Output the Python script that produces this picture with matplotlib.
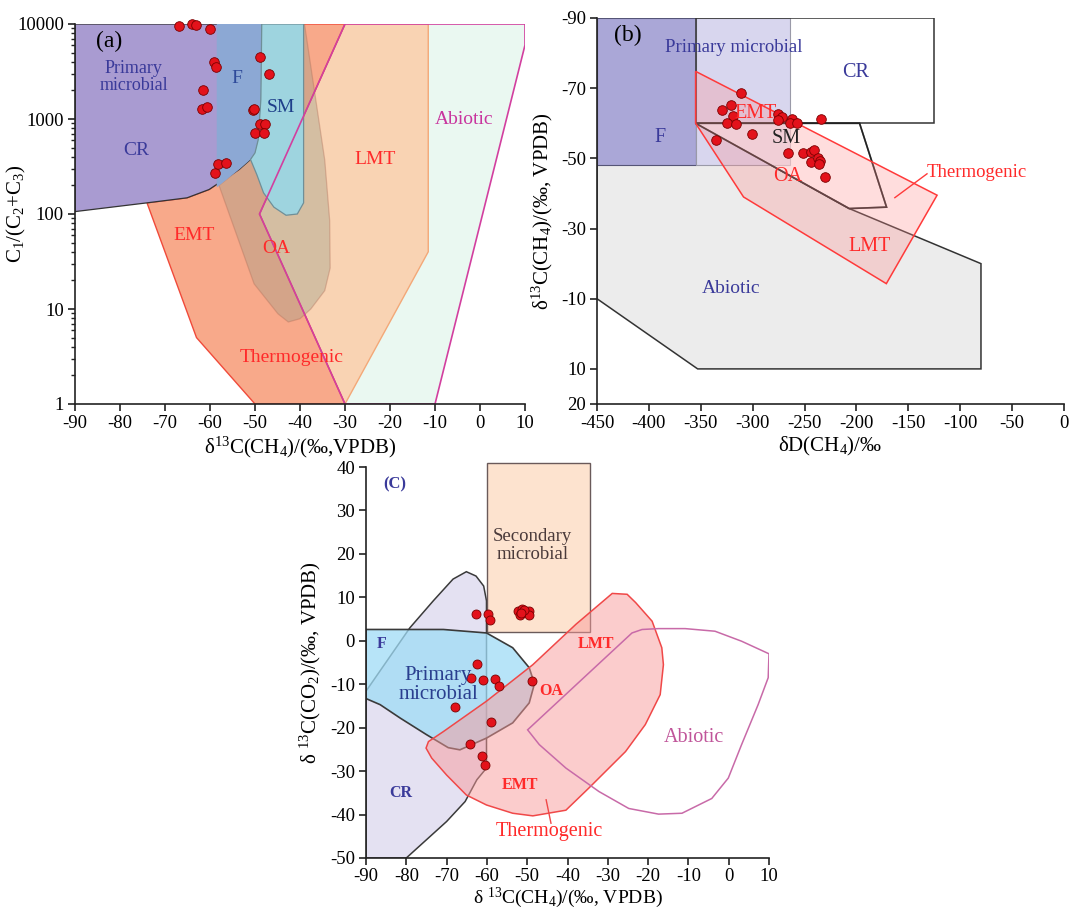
import matplotlib
matplotlib.use("Agg")
import matplotlib.pyplot as plt
from matplotlib.patches import Polygon
from matplotlib.ticker import FixedLocator, FixedFormatter, LogLocator, NullFormatter

plt.rcParams['font.family'] = ['Liberation Serif', 'DejaVu Serif']
plt.rcParams['mathtext.fontset'] = 'custom'
plt.rcParams['mathtext.rm'] = 'Liberation Serif'
plt.rcParams['mathtext.it'] = 'Liberation Serif:italic'
plt.rcParams['mathtext.bf'] = 'Liberation Serif:bold'
plt.rcParams['axes.unicode_minus'] = False

# ---------------- panel (a): C1/(C2+C3) vs d13C-CH4 ----------------
a_cr = [(-90, 10000), (-48.5, 10000), (-48.7, 1600), (-49.3, 600), (-50, 440), (-51, 375),
        (-53.5, 295), (-60.2, 181), (-65.1, 148), (-74, 131), (-90, 106)]
a_f = [(-58.5, 10000), (-48.5, 10000), (-48.7, 1600), (-49.3, 600), (-50, 440), (-51, 375),
       (-53.5, 295), (-58.5, 190)]
a_sm = [(-48.5, 10000), (-48.7, 1600), (-49.3, 600), (-50, 440), (-51, 375), (-49.6, 260),
        (-48.1, 167), (-45.8, 118), (-43.1, 97), (-40.6, 100), (-39.2, 131), (-39.2, 10000)]
a_emt = [(-74, 131), (-63, 5), (-50, 1), (-30, 1), (-49, 100), (-30, 10000), (-48.5, 10000),
         (-50, 440), (-53.5, 295), (-60.2, 181), (-65.1, 148)]
a_lmt = [(-30, 10000), (-11.5, 10000), (-11.5, 40), (-30, 1), (-49, 100)]
a_oa = [(-58, 200), (-50.2, 18.4), (-44.9, 8.9), (-42.6, 7.3), (-40, 7.9), (-37.6, 10),
        (-34.5, 15.6), (-33.3, 27), (-33.4, 85), (-34.5, 370), (-39, 10000), (-48.5, 10000),
        (-50, 440), (-53.5, 295)]
a_abiotic = [(-30, 10000), (10, 10000), (10, 6000), (-10, 1), (-30, 1), (-49, 100)]

a_x = [-66.8, -63.9, -63.2, -59.9, -59.1, -58.7, -61.5, -61.7, -60.7, -58.9, -58.2, -56.4,
       -49.0, -47.0, -50.4, -50.2, -49.0, -47.7, -50.0, -47.9]
a_y = [9500, 10000, 9800, 8800, 4000, 3550, 2000, 1270, 1350, 267, 334, 348,
       4450, 2980, 1230, 1270, 880, 880, 710, 720]

a_xticks = [-90, -80, -70, -60, -50, -40, -30, -20, -10, 0, 10]
a_yticks = [1, 10, 100, 1000, 10000]
a_ytick_labels = ["1", "10", "100", "1000", "10000"]

# ---------------- panel (b): d13C-CH4 vs dD-CH4 ----------------
b_f = [(-450, -90), (-355, -90), (-355, -48), (-450, -48)]
b_pm = [(-355, -90), (-264, -90), (-264, -48), (-355, -48)]
b_cr = [(-355, -90), (-125.6, -90), (-125.6, -60), (-355, -60)]
b_sm = [(-355, -60), (-197, -60), (-171, -36.1), (-207, -35.7)]
b_therm = [(-355, -74.8), (-122.3, -39.5), (-171.2, -14.3), (-308.8, -39), (-355, -60)]
b_abiotic = [(-450, -60), (-355, -60), (-207, -35.7), (-80, -20), (-80, 10), (-353, 10), (-450, -10)]

b_x = [-311.4, -329.4, -321.2, -318.9, -325.1, -316.3, -300.7, -335.2, -275.6, -271.7, -275.6,
       -262.5, -264.1, -257.6, -233.8, -266.4, -251.8, -243.9, -241.3, -243.9, -237.1, -234.8,
       -235.8, -229.9]
b_y = [-68.6, -63.8, -65.3, -62.0, -60.0, -59.7, -57.0, -55.3, -62.7, -61.9, -61.0, -61.3, -60.0,
       -60.0, -61.1, -51.5, -51.5, -51.7, -52.5, -48.9, -50.1, -49.2, -48.5, -44.7]

b_xticks = [-450, -400, -350, -300, -250, -200, -150, -100, -50, 0]
b_yticks = [-90, -70, -50, -30, -10, 10, 20]

# ---------------- panel (c): d13C-CO2 vs d13C-CH4 ----------------
c_cr = [(-90, -11.6), (-79.1, 3.0), (-73.3, 9.2), (-68.4, 14.2), (-65.1, 15.9), (-62.7, 14.9),
        (-60.8, 12.6), (-60.1, 9.2), (-60.1, -29.3), (-62.5, -32), (-65.4, -37), (-70, -41.6),
        (-80, -50), (-90, -50)]
c_f = [(-90, 2.6), (-70.8, 2.6), (-60.1, 1.8), (-53.6, -1.6), (-49.5, -6.2), (-48.2, -9.9),
       (-49.5, -14.3), (-53.6, -18.9), (-60.1, -22.4), (-66.7, -25.1), (-69.6, -24.6),
       (-75.0, -21.6), (-81.5, -17.8), (-86.5, -14.7), (-90, -13.3)]
c_sec = [(-60, 2), (-34.5, 2), (-34.5, 41), (-60, 41)]
c_therm = [(-28.9, 10.9), (-25.2, 10.7), (-23.1, 8.8), (-19.0, 4.5), (-16.6, -1.6), (-16.2, -5.5),
           (-17.0, -12.4), (-20.7, -19.3), (-25.6, -25.5), (-34.7, -33.9), (-40.4, -39.0),
           (-48.6, -40.3), (-53.6, -39.7), (-60.1, -37.8), (-65.1, -35.5), (-70.0, -30.9),
           (-73.7, -27.0), (-75.1, -24.7), (-74.5, -23.2), (-70.8, -20.9), (-60.1, -13.9),
           (-48.6, -5.5), (-37.9, 3.8)]
c_abiotic = [(-49.9, -20.5), (-24.0, 1.8), (-21.5, 2.6), (-17.4, 2.8), (-10.8, 2.8), (-3.4, 2.2),
             (3.2, -0.1), (10.0, -3.0), (9.8, -8.5), (7.3, -14.7), (3.2, -23.9), (-0.1, -31.6),
             (-4.2, -36.3), (-11.6, -39.7), (-17.4, -39.9), (-24.8, -38.6), (-32.2, -34.7),
             (-40.4, -29.3), (-47.0, -23.9)]

c_x = [-62.6, -59.7, -59.2, -52.3, -51.3, -50.7, -49.6, -49.5, -51.9, -50.9, -51.5,
       -62.5, -63.9, -61.0, -58.1, -57.0, -48.9, -67.9, -59.1, -64.3, -61.1, -60.5]
c_y = [6.1, 6.2, 4.8, 6.9, 7.4, 6.7, 6.9, 5.9, 5.9, 7.0, 6.3,
       -5.3, -8.5, -9.1, -8.9, -10.5, -9.3, -15.3, -18.7, -23.8, -26.6, -28.6]

c_xticks = [-90, -80, -70, -60, -50, -40, -30, -20, -10, 0, 10]
c_yticks = [-50, -40, -30, -20, -10, 0, 10, 20, 30, 40]

BLUE = "#3a3a9a"
RED = "#ff2a2a"
DOT = "#e3121b"
DOT_EDGE = "#7a0000"


def poly(ax, pts, fc, ec="none", lw=1.0, alpha=1.0, z=1, clip=True):
    p = Polygon(pts, closed=True, facecolor=fc, edgecolor=ec, lw=lw, alpha=alpha, zorder=z)
    p.set_clip_on(clip)
    ax.add_patch(p)
    return p


def outline(ax, pts, ec, lw=1.0, z=5, clip=True):
    p = Polygon(pts, closed=True, facecolor="none", edgecolor=ec, lw=lw, zorder=z)
    p.set_clip_on(clip)
    ax.add_patch(p)


def style_axes(ax):
    for s in ("top", "right"):
        ax.spines[s].set_visible(False)
    for s in ("left", "bottom"):
        ax.spines[s].set_linewidth(1.2)
        ax.spines[s].set_color("#222222")
        ax.spines[s].set_zorder(20)
    ax.tick_params(which="major", direction="out", length=5, width=1.2, labelsize=13.5,
                   color="#222222", pad=3)
    ax.tick_params(which="minor", direction="out", length=3, width=1.0, color="#222222")


fig = plt.figure(figsize=(10.72, 9.09), dpi=100)

# ======== (a) ========
axA = fig.add_axes([75 / 1072, 1 - 404 / 909, 450 / 1072, 380 / 909])
axA.set_yscale("log")
axA.set_xlim(-90, 10)
axA.set_ylim(1, 10000)

poly(axA, a_abiotic, "#eaf8f1", z=1)
poly(axA, a_lmt, "#f9d3b3", ec="#f3a878", lw=1.0, z=2)
poly(axA, a_emt, "#f8a98a", ec="#f04a3a", lw=1.0, z=3)
poly(axA, a_oa, "#9a9c88", ec="#b0705a", lw=0.9, alpha=0.38, z=4)
poly(axA, a_cr, "#a99bd1", ec="#333333", lw=0.9, z=5)
poly(axA, a_f, "#8ca8d4", z=6)
poly(axA, a_sm, "#9ed4df", ec="#6f8f98", lw=0.9, z=7)
outline(axA, a_abiotic, "#d23f9f", lw=1.2, z=8)

axA.scatter(a_x, a_y, s=48, c=DOT, edgecolors=DOT_EDGE, linewidths=0.6, zorder=15, clip_on=False)

axA.text(-82.5, 6500, "(a)", fontsize=17, ha="center", va="center", zorder=16)
axA.text(-77, 2800, "Primary\nmicrobial", fontsize=13, color=BLUE, ha="center", va="center",
         linespacing=1.0, zorder=16)
axA.text(-54.1, 2700, "F", fontsize=14, color="#2e4a9a", ha="center", va="center", zorder=16)
axA.text(-44.2, 1320, "SM", fontsize=14, color="#1e3f8a", ha="center", va="center", zorder=16)
axA.text(-76.5, 464, "CR", fontsize=14, color=BLUE, ha="center", va="center", zorder=16)
axA.text(-63.6, 60, "EMT", fontsize=14, color=RED, ha="center", va="center", zorder=16)
axA.text(-45.2, 43, "OA", fontsize=14, color=RED, ha="center", va="center", zorder=16)
axA.text(-23.4, 373, "LMT", fontsize=14, color=RED, ha="center", va="center", zorder=16)
axA.text(-41.9, 3.05, "Thermogenic", fontsize=14, color=RED, ha="center", va="center", zorder=16)
axA.text(-3.6, 980, "Abiotic", fontsize=14, color="#c8359e", ha="center", va="center", zorder=16)

style_axes(axA)
axA.xaxis.set_major_locator(FixedLocator(a_xticks))
axA.yaxis.set_major_locator(FixedLocator(a_yticks))
axA.yaxis.set_major_formatter(FixedFormatter(a_ytick_labels))
axA.yaxis.set_minor_locator(LogLocator(base=10, subs=(2, 3, 4, 5, 6, 7, 8, 9)))
axA.yaxis.set_minor_formatter(NullFormatter())
axA.set_xlabel("δ$^{13}$C(CH$_4$)/(‰,VPDB)", fontsize=15, labelpad=2)
axA.set_ylabel("C$_1$/(C$_2$+C$_3$)", fontsize=15)
axA.yaxis.set_label_coords(-0.104, 0.5)

# ======== (b) ========
axB = fig.add_axes([597 / 1072, 1 - 404 / 909, 467 / 1072, 386 / 909])
axB.set_xlim(-450, 0)
axB.set_ylim(20, -90)

poly(axB, b_abiotic, "#ececec", ec="#333333", lw=1.1, z=1)
poly(axB, b_cr, "white", z=2)
poly(axB, b_f, "#aaa7d7", ec="#555577", lw=0.8, z=3)
poly(axB, b_pm, "#d8d6ee", ec="#9a9aa8", lw=0.8, z=4)
outline(axB, b_cr, "#333333", lw=1.1, z=5)
poly(axB, b_sm, "white", ec="#222222", lw=1.2, alpha=0.5, z=6)
outline(axB, b_sm, "#222222", lw=1.2, z=7)
poly(axB, b_therm, "#ff8f8f", alpha=0.3, z=8)
outline(axB, b_therm, "#ff3a3a", lw=1.1, z=9)

axB.scatter(b_x, b_y, s=48, c=DOT, edgecolors=DOT_EDGE, linewidths=0.6, zorder=15)

axB.text(-420.7, -85, "(b)", fontsize=17, ha="center", va="center", zorder=16)
axB.text(-318, -81.7, "Primary microbial", fontsize=13.5, color=BLUE, ha="center", va="center", zorder=16)
axB.text(-200.6, -74.5, "CR", fontsize=14.5, color=BLUE, ha="center", va="center", zorder=16)
axB.text(-389.7, -56, "F", fontsize=14.5, color=BLUE, ha="center", va="center", zorder=16)
axB.text(-296.8, -62.7, "EMT", fontsize=14.5, color=RED, ha="center", va="center", zorder=16)
axB.text(-267.4, -55.6, "SM", fontsize=14.5, color="#222222", ha="center", va="center", zorder=16)
axB.text(-265.8, -44.7, "OA", fontsize=14.5, color=RED, ha="center", va="center", zorder=16)
axB.text(-187.5, -24.8, "LMT", fontsize=14.5, color=RED, ha="center", va="center", zorder=16)
axB.text(-321.2, -12.9, "Abiotic", fontsize=14, color=BLUE, ha="center", va="center", zorder=16)
axB.text(-132, -46.1, "Thermogenic", fontsize=13.5, color=RED, ha="left", va="center", zorder=16)
axB.plot([-132, -163], [-45.6, -38.8], color="#ff3a3a", lw=1.0, zorder=16)

style_axes(axB)
axB.xaxis.set_major_locator(FixedLocator(b_xticks))
axB.yaxis.set_major_locator(FixedLocator(b_yticks))
axB.set_xlabel("δD(CH$_4$)/‰", fontsize=15, labelpad=2)
axB.set_ylabel("δ$^{13}$C(CH$_4$)/(‰, VPDB)", fontsize=15)
axB.yaxis.set_label_coords(-0.09, 0.5)

# ======== (c) ========
axC = fig.add_axes([366 / 1072, 1 - 858 / 909, 403 / 1072, 391 / 909])
axC.set_xlim(-90, 10)
axC.set_ylim(-50, 40)

poly(axC, c_cr, "#e4e1f2", ec="#3a3a3a", lw=1.1, z=1)
poly(axC, c_f, "#9fdcf6", alpha=0.75, z=2)
outline(axC, c_f, "#3a3a3a", lw=1.2, z=3)
poly(axC, c_sec, "#fde3cf", ec="#6a5a5a", lw=1.0, z=2, clip=False)
poly(axC, c_therm, "#f99b9b", alpha=0.5, z=4)
outline(axC, c_therm, "#f04848", lw=1.1, z=5)
outline(axC, c_abiotic, "#c86aa8", lw=1.1, z=6)

axC.scatter(c_x, c_y, s=42, c=DOT, edgecolors=DOT_EDGE, linewidths=0.6, zorder=15)

axC.text(-82.8, 36.1, "(C)", fontsize=12, fontweight="bold", color=BLUE, ha="center", va="center", zorder=16)
axC.text(-48.6, 21.9, "Secondary\nmicrobial", fontsize=13.5, color="#4a3a3a", ha="center", va="center",
         linespacing=1.05, zorder=16)
axC.text(-86.1, -0.8, "F", fontsize=11.5, fontweight="bold", color=BLUE, ha="center", va="center", zorder=16)
axC.text(-72.1, -10.1, "Primary\nmicrobial", fontsize=15, color="#2a3f8f", ha="center", va="center",
         linespacing=1.0, zorder=16)
axC.text(-33.0, -0.8, "LMT", fontsize=11.5, fontweight="bold", color=RED, ha="center", va="center", zorder=16)
axC.text(-44.1, -11.5, "OA", fontsize=11.5, fontweight="bold", color=RED, ha="center", va="center", zorder=16)
axC.text(-8.7, -22.2, "Abiotic", fontsize=14.5, color="#c0559a", ha="center", va="center", zorder=16)
axC.text(-51.9, -33.2, "EMT", fontsize=11.5, fontweight="bold", color=RED, ha="center", va="center", zorder=16)
axC.text(-81.5, -35.1, "CR", fontsize=11.5, fontweight="bold", color=BLUE, ha="center", va="center", zorder=16)
axC.text(-44.5, -44.0, "Thermogenic", fontsize=14.5, color=RED, ha="center", va="center", zorder=16)
axC.plot([-45.3, -44.1], [-36.6, -42.0], color="#f04848", lw=1.0, zorder=16)

style_axes(axC)
axC.tick_params(axis="x", pad=2)
axC.xaxis.set_major_locator(FixedLocator(c_xticks))
axC.yaxis.set_major_locator(FixedLocator(c_yticks))
axC.set_xlabel("δ $^{13}$C(CH$_4$)/(‰, VPDB)", fontsize=14)
axC.xaxis.set_label_coords(0.5, -0.07)
axC.set_ylabel("δ $^{13}$C(CO$_2$)/(‰, VPDB)", fontsize=15)
axC.yaxis.set_label_coords(-0.107, 0.5)

fig.savefig("out.png", dpi=100)
